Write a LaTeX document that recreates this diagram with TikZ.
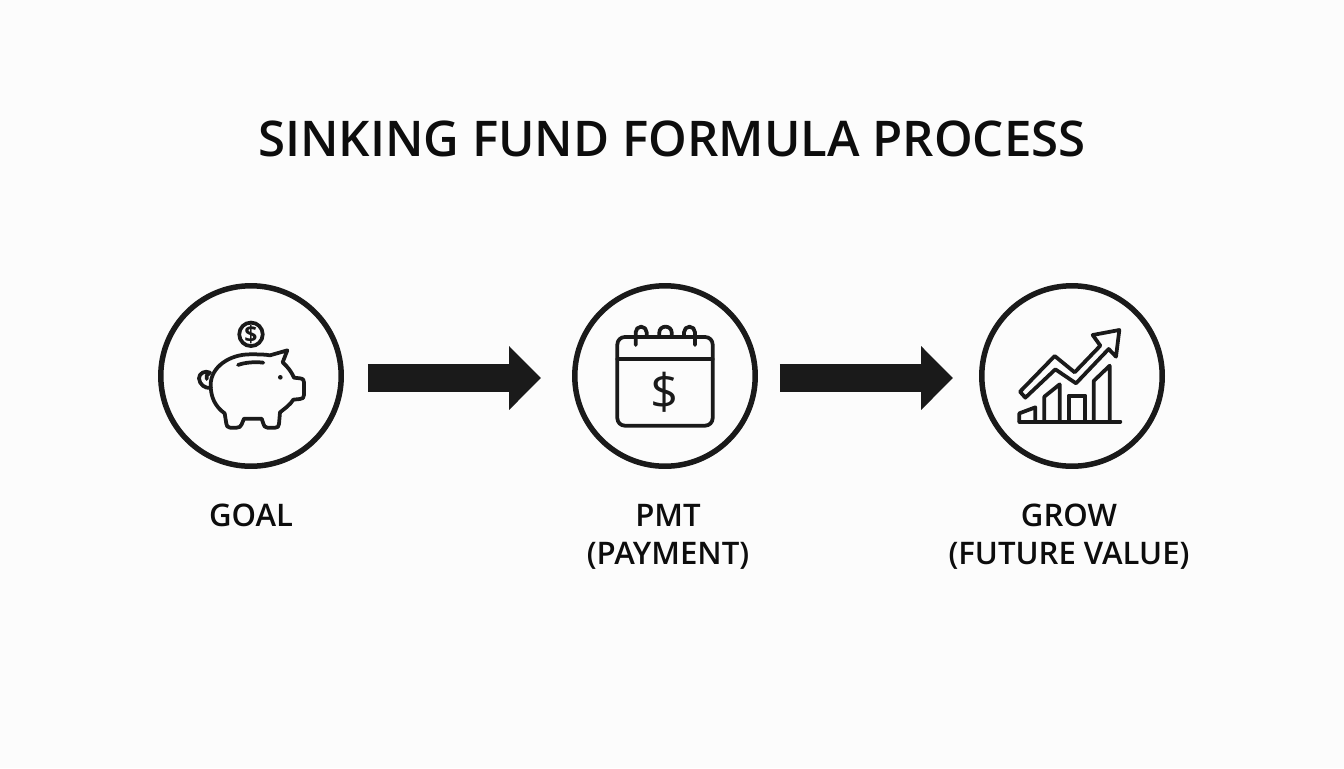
\documentclass[tikz,border=0pt]{standalone}
\usepackage{fontspec}
\setmainfont{Open Sans}[BoldFont={Open Sans Semibold}]
\newfontfamily\boldfont{Open Sans}[UprightFont={* Bold}]
\usetikzlibrary{arrows.meta}
\definecolor{inkblack}{HTML}{1A1A1A}
\definecolor{textblack}{HTML}{0D0D0D}
\tikzset{
  stepcircle/.style={circle, draw=inkblack, line width=0.11cm, minimum size=3.61cm, inner sep=0pt},
  flowarrow/.style={draw=inkblack, line width=0.56cm, -{Triangle[length=0.64cm, width=1.24cm, fill=inkblack]}},
  steplabel/.style={font=\fontsize{17.7}{21.6}\selectfont\bfseries, text=textblack, align=center, inner sep=0pt},
  icon/.style={draw=inkblack, line width=0.075cm, line join=round, line cap=round},
}
\begin{document}
\begin{tikzpicture}[x=0.02cm, y=-0.02cm]
\useasboundingbox (0,0) rectangle (1344,768);
\fill [white!99!black] (0,0) rectangle (1344,768);
\node (title) [font=\fontsize{28}{30}\selectfont\bfseries, text=textblack, inner sep=0pt] at (672,139) {SINKING FUND FORMULA PROCESS};
\node (goal) [stepcircle] at (251,376) {};
\node (pmt) [stepcircle] at (665,376) {};
\node (grow) [stepcircle] at (1072,376) {};
\node (goaltext) [steplabel, anchor=north] at (251,504) {GOAL};
\node (pmttext) [steplabel, anchor=north] at (668,504) {PMT\\(PAYMENT)};
\node (growtext) [steplabel, anchor=north] at (1069,504) {GROW\\(FUTURE VALUE)};
%Arrows:
\draw [flowarrow, shorten <=24\pgflinewidth/28, shorten >=31\pgflinewidth/28] ([yshift=-0.04cm]goal.east) -- ([yshift=-0.04cm]pmt.west);
\draw [flowarrow, shorten <=22\pgflinewidth/28, shorten >=26\pgflinewidth/28] ([yshift=-0.04cm]pmt.east) -- ([yshift=-0.04cm]grow.west);
%Piggy bank:
\begin{scope}[shift={(150,275)}, x=0.00667cm, y=-0.00667cm]
\draw [icon] (360,241) -- (412,226) -- (398,262) .. controls (415,277) and (425,292) .. (432,308)
  -- (450,310) .. controls (460,311) and (462,316) .. (462,322) -- (462,360) .. controls (462,368) and (458,372) .. (450,372)
  -- (430,374) .. controls (420,390) and (405,400) .. (390,412) -- (387,447) .. controls (387,455) and (382,458) .. (376,458)
  -- (352,458) .. controls (344,458) and (342,452) .. (340,446) -- (335,431) -- (282,431) -- (275,448)
  .. controls (272,455) and (268,458) .. (260,458) -- (240,458) .. controls (232,458) and (230,452) .. (229,446)
  -- (224,415) .. controls (195,395) and (182,365) .. (182,330) .. controls (182,275) and (240,238) .. (300,238)
  .. controls (325,238) and (345,238) .. (360,241) -- cycle;
\draw [icon] (264,270) .. controls (285,262) and (315,260) .. (340,263);
\draw [icon] (183,338) .. controls (165,342) and (148,328) .. (147,310) .. controls (147,295) and (165,285) .. (180,293)
  .. controls (172,297) and (166,304) .. (170,312);
\fill [inkblack] (391,307) circle [radius=7];
\node (coin) [circle, draw=inkblack, line width=0.075cm, minimum size=0.47cm, inner sep=0pt] at (303,178) {};
\node (coinsign) [font=\boldfont\fontsize{13}{13}\selectfont, text=inkblack, inner sep=0pt] at (303,178) {\$};
\end{scope}
%Calendar:
\begin{scope}[shift={(565,275)}, x=0.00667cm, y=-0.00667cm]
\draw [icon, rounded corners=0.15cm] (157,186) rectangle (443,452);
\draw [icon] (157,253) -- (443,253);
\draw [icon] (212,210) -- (212,172) arc [start angle=180, end angle=0, x radius=16.5, y radius=-17] -- (245,185);
\draw [icon] (283,185) -- (283,172) arc [start angle=180, end angle=0, x radius=18.5, y radius=-17] -- (320,185);
\draw [icon] (357,185) -- (357,172) arc [start angle=180, end angle=0, x radius=16.5, y radius=-17] -- (390,210);
\node (dollar) [font=\fontsize{28}{28}\selectfont, text=inkblack, inner sep=0pt] at (300,351) {\$};
\end{scope}
%Chart:
\begin{scope}[shift={(972,275)}, x=0.00667cm, y=-0.00667cm]
\draw [icon] (160,368) -- (144,350) -- (248,243) -- (308,292) -- (385,212) -- (362,180) -- (442,165) -- (432,245) -- (410,222) -- (312,325) -- (250,283) -- cycle;
\draw [icon] (142,440) -- (445,440);
\draw [icon] (142,440) -- (142,415) -- (190,397) -- (190,440);
\draw [icon] (217,440) -- (217,365) -- (263,328) -- (263,440);
\draw [icon] (290,440) -- (290,362) -- (340,362) -- (340,440);
\draw [icon] (365,440) -- (365,318) -- (413,272) -- (413,440);
\end{scope}
\end{tikzpicture}
\end{document}
